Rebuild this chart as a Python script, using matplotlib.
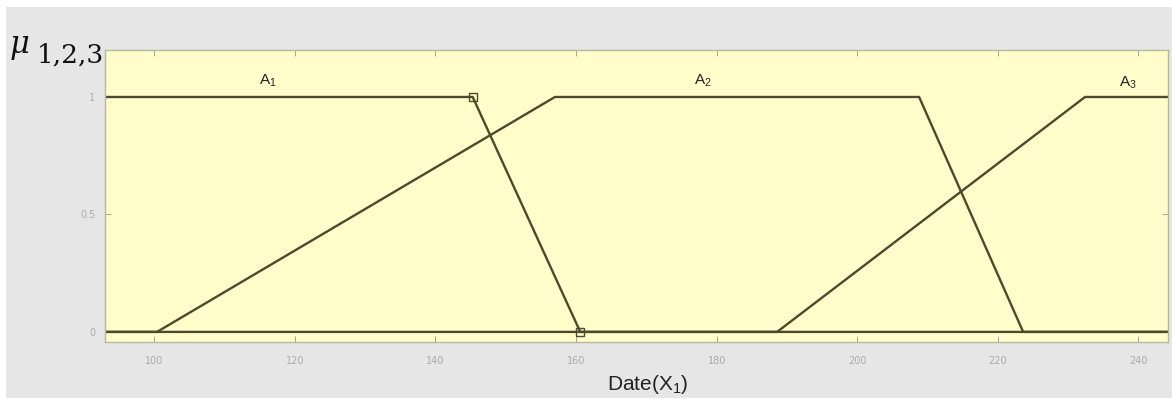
import matplotlib.pyplot as plt
from matplotlib.patches import Rectangle

plt.rcParams['mathtext.default'] = 'regular'

# membership functions (x = date, y = membership)
a1_x = [80, 145.3, 160.6, 260]
a1_y = [1, 1, 0, 0]
a2_x = [80, 100.4, 157.0, 208.8, 223.6, 260]
a2_y = [0, 0, 1, 1, 0, 0]
a3_x = [80, 188.6, 232.4, 260]
a3_y = [0, 0, 1, 1]

labels = ["A$_1$", "A$_2$", "A$_3$"]
label_x = [116.2, 178.1, 238.5]
label_y = [1.07, 1.07, 1.06]

xticks = [100, 120, 140, 160, 180, 200, 220, 240]
yticks = [0, 0.5, 1]
ytick_labels = ["0", "0.5", "1"]

line_col = "#4a4a2c"

fig = plt.figure(figsize=(11.72, 3.99), dpi=100, facecolor="white")
fig.patches.append(Rectangle((6 / 1172, 1 / 399), 1, 1 - 8 / 399, transform=fig.transFigure,
                             facecolor="#e6e6e6", edgecolor="none", zorder=-10))

ax = fig.add_axes([105 / 1172, 1 - 342 / 399, 1063 / 1172, 292 / 399])
ax.set_facecolor("#fffdc9")

ax.plot(a2_x, a2_y, color=line_col, lw=1.7)
ax.plot(a3_x, a3_y, color=line_col, lw=1.7)
ax.plot(a1_x, a1_y, color=line_col, lw=1.7, marker="s", markevery=[1, 2],
        markersize=6, markerfacecolor="none", markeredgecolor=line_col, markeredgewidth=1.0)

for t, x, y in zip(labels, label_x, label_y):
    ax.text(x, y, t, ha="center", va="center", fontsize=11, color="#222222",
            family="Liberation Sans")

ax.set_xlim(93.0, 244.2)
ax.set_ylim(-0.043, 1.2)
ax.set_xticks(xticks)
ax.set_yticks(yticks)
ax.set_yticklabels(ytick_labels)
ax.tick_params(direction="in", length=4, width=0.6, color="#999988", labelcolor="#aaaaaa",
               labelsize=7, top=True, right=True)
ax.tick_params(axis="x", pad=10)
ax.tick_params(axis="y", pad=7)
for s in ax.spines.values():
    s.set_color("#b8b89a")
    s.set_linewidth(1.0)

fig.text(648 / 1172, 1 - 385 / 399, "Date(X$_1$)", ha="center", va="center", fontsize=15,
         color="#222222", family="Liberation Sans")
fig.text(9 / 1172, 1 - 46 / 399, r"$\mu$", ha="left", va="center", fontsize=22,
         color="#111111", family="DejaVu Serif", style="italic")
fig.text(37 / 1172, 1 - 55 / 399, "1,2,3", ha="left", va="center", fontsize=19,
         color="#111111", family="DejaVu Serif")

fig.savefig("out.png", dpi=100, facecolor=fig.get_facecolor())
